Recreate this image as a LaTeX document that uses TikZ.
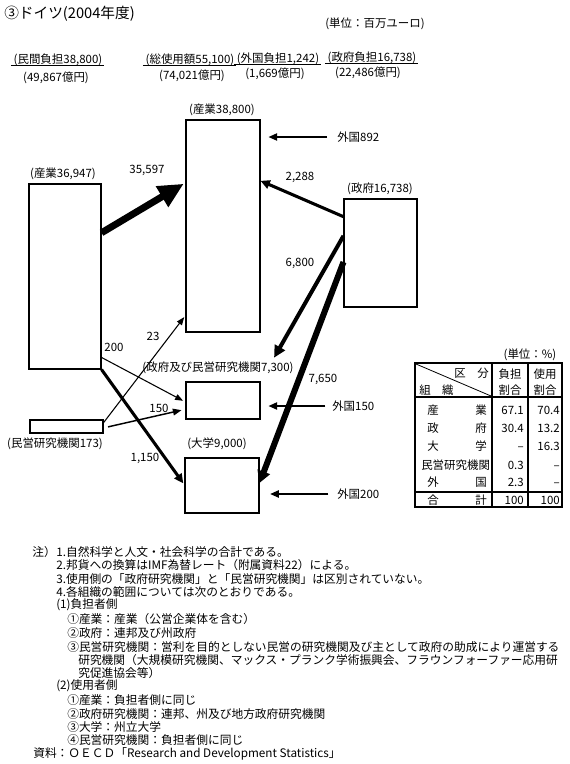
\documentclass[tikz,border=0pt]{standalone}
\usepackage{fontspec}
\setmainfont{Noto Sans CJK JP}
\usetikzlibrary{arrows.meta,calc}

\begin{document}
\begin{tikzpicture}[x=0.75pt,y=-0.75pt,
  every node/.style={inner sep=0pt,font=\fontsize{8.6}{12.5}\selectfont},
  box/.style={draw,line width=0.8pt},
  cell/.style={text height=7.5pt,text depth=1pt},
  note/.style={anchor=west,font=\fontsize{8.8}{11}\selectfont},
  tabline/.style={line width=1.1pt},
  flowthin/.style={line width=0.8pt,-{Triangle[length=6pt,width=4.5pt]}},
  flowext/.style={line width=1.1pt,-{Triangle[length=6.5pt,width=5.5pt]}},
  flow150/.style={line width=1.1pt,-{Triangle[length=6.5pt,width=5pt]}},
  flowmid/.style={line width=2.3pt,-{Triangle[length=7pt,width=6.5pt]}},
  flow6800/.style={line width=3pt,-{Triangle[length=9pt,width=8.5pt]}},
  flow7650/.style={line width=4.5pt,-{Triangle[length=9pt,width=9.5pt]}},
  flowbig/.style={line width=5.2pt,-{Triangle[length=19pt,width=17pt]}}]
\useasboundingbox (0,0) rectangle (570,764);

% heading
\node[font=\fontsize{11}{13}\selectfont,anchor=west] (title) at (4,14) {③ドイツ(2004年度)};
\node (unit) at (375,24) {(単位：百万ユーロ)};

\node (ppay) at (58,60) {(民間負担38,800)};
\node (ppayyen) at (56,78) {(49,867億円)};
\node (tuse) at (190,60) {(総使用額55,100)};
\node (tuseyen) at (192,76) {(74,021億円)};
\node (fpay) at (278,59) {(外国負担1,242)};
\node (fpayyen) at (275,74) {(1,669億円)};
\node (gpay) at (372,58) {(政府負担16,738)};
\node (gpayyen) at (368,73) {(22,486億円)};
\foreach \n in {ppay,tuse,fpay,gpay}
  \draw[line width=0.7pt] ([xshift=-2pt,yshift=0.6pt]\n.south west) -- ([xshift=1pt,yshift=0.6pt]\n.south east);

% sectors
\node[box,minimum width=54pt,minimum height=138.75pt] (ind1) at (65,276.5) {};
\node[box,minimum width=55.5pt,minimum height=159pt] (ind2) at (223,226) {};
\node[box,minimum width=54.75pt,minimum height=81pt] (gov) at (380.5,253) {};
\node[box,minimum width=55.5pt,minimum height=27.75pt] (pri) at (223,400.5) {};
\node[box,minimum width=55.5pt,minimum height=41.25pt] (uni) at (222,485.5) {};
\node[box,minimum width=54.75pt,minimum height=9.75pt] (npo) at (66.5,426.5) {};

\node (lind1) at (63,174) {(産業36,947)};
\node (lind2) at (222,110) {(産業38,800)};
\node (lgov) at (380,189) {(政府16,738)};
\node (lpri) at (218,368) {(政府及び民営研究機関7,300)};
\node (luni) at (217,444) {(大学9,000)};
\node (lnpo) at (55,444) {(民営研究機関173)};

% flows
\draw[flowbig,shorten >=1.5pt] ($(ind1.north east)!0.265!(ind1.south east)$) -- ($(ind2.north west)!0.297!(ind2.south west)$);
\draw[flowmid] ($(gov.north west)!0.167!(gov.south west)$) -- ($(ind2.north east)!0.288!(ind2.south east)$);
\draw[flow6800,shorten >=20.5pt] ($(gov.north west)!0.343!(gov.south west)$) -- (pri.north east);
\draw[flow7650] ($(gov.north west)!0.583!(gov.south west)$) -- ($(uni.north east)!0.455!(uni.south east)$);
\draw[flowthin,shorten >=2pt] ($(ind1.north east)!0.935!(ind1.south east)$) -- ($(pri.north west)!0.54!(pri.south west)$);
\draw[flowmid,shorten >=1.5pt] (ind1.south east) -- ($(uni.north west)!0.49!(uni.south west)$);
\draw[flowthin,shorten >=1.5pt] ($(npo.north east)!0.23!(npo.south east)$) -- ($(ind2.north west)!0.92!(ind2.south west)$);
\draw[flow150,shorten <=3.5pt,shorten >=3pt] ($(npo.north east)!0.6!(npo.south east)$) -- ($(pri.north west)!0.73!(pri.south west)$);

\node (v35597) at (147,170) {35,597};
\node (v2288) at (300,177) {2,288};
\node (v6800) at (300,263) {6,800};
\node (v7650) at (323,379) {7,650};
\node (v23) at (153,336) {23};
\node (v200) at (114,347) {200};
\node (v150) at (159,408) {150};
\node (v1150) at (145,458) {1,150};

\node[anchor=west] (f892) at (337,137) {外国892};
\node[anchor=west] (f150) at (332,406) {外国150};
\node[anchor=west] (f200) at (337,494) {外国200};
\draw[flowext,shorten <=7.5pt,shorten >=6pt] (f892.west) -- (ind2.east |- f892.west);
\draw[flowext,shorten <=5pt,shorten >=6pt] (f150.west) -- (pri.east |- f150.west);
\draw[flowext,shorten <=6.5pt,shorten >=8pt] (f200.west) -- (uni.east |- f200.west);

% share table
\node (tunit) at (530,355) {(単位：\%)};
\draw[tabline] (415,363) rectangle (562,507);
\draw[tabline] (492,363) -- (492,507) (528,363) -- (528,507)
  (415,397) -- (562,397) (415,492) -- (562,492);
\draw[line width=0.6pt] (416,364) -- (491,396);
\node[cell,anchor=east] (hku) at (489,373) {区\hspace{1em}分};
\node[cell,anchor=west] (hso) at (419,390) {組\hspace{1em}織};
\node[align=center] (hfu) at (510,382) {負担\\割合};
\node[align=center] (hsi) at (545,382) {使用\\割合};
\foreach \a/\b/\x/\p/\u/\y [count=\i] in {産/業/427/67.1/70.4/410, 政/府/427/30.4/13.2/428,
    大/学/427/–/16.3/446, 民営研究機関//421/0.3/–/465, 外/国/427/2.3/–/482, 合/計/427/100/100/500} {
  \node[cell,anchor=west] (ra\i) at (\x,\y) {\a};
  \node[cell,anchor=east] (rb\i) at (487,\y) {\b};
  \node[cell,anchor=east] (rp\i) at (524,\y) {\p};
  \node[cell,anchor=east] (ru\i) at (560,\y) {\u};
}

% notes
\node[note] (n0) at (32,552) {注）};
\node[note] (n1) at (56,552) {1.自然科学と人文・社会科学の合計である。};
\node[note] (n2) at (56,565) {2.邦貨への換算はIMF為替レート（附属資料22）による。};
\node[note] (n3) at (56,579) {3.使用側の「政府研究機関」と「民営研究機関」は区別されていない。};
\node[note] (n4) at (56,592) {4.各組織の範囲については次のとおりである。};
\node[note] (n5) at (56,605) {(1)負担者側};
\node[note] (n6) at (67,619) {①産業：産業（公営企業体を含む）};
\node[note] (n7) at (67,633) {②政府：連邦及び州政府};
\node[note] (n8) at (67,647) {③民営研究機関：営利を目的としない民営の研究機関及び主として政府の助成により運営する};
\node[note] (n9) at (78,660) {研究機関（大規模研究機関、マックス・プランク学術振興会、フラウンフォーファー応用研};
\node[note] (n10) at (78,673) {究促進協会等）};
\node[note] (n11) at (56,686) {(2)使用者側};
\node[note] (n12) at (67,700) {①産業：負担者側に同じ};
\node[note] (n13) at (67,714) {②政府研究機関：連邦、州及び地方政府研究機関};
\node[note] (n14) at (67,727) {③大学：州立大学};
\node[note] (n15) at (67,740) {④民営研究機関：負担者側に同じ};
\node[note] (n16) at (33,754) {資料：ＯＥＣＤ「Research and Development Statistics」};
\end{tikzpicture}
\end{document}
